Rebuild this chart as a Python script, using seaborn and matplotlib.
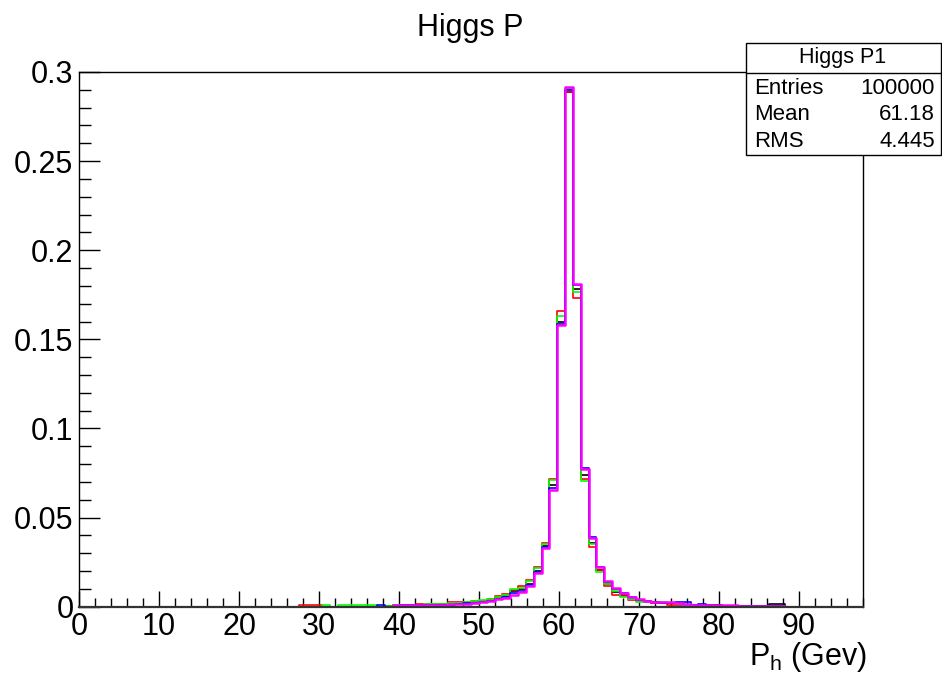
import numpy as np
import pandas as pd
import matplotlib
matplotlib.use("Agg")
import matplotlib.pyplot as plt
from matplotlib.ticker import MultipleLocator
import seaborn as sns

# Histogram binning: 100 bins over 0..98 GeV
N_BINS = 100
X_MIN, X_MAX = 0.0, 98.0
FIRST_BIN = 27  # index of the first listed bin; bins outside the lists are empty

# Normalised bin contents (bins 27..90) for each overlaid sample
black = [0, 0, 0, 0, 0, 0, 0, 0, 0, 0, 0, 0, .0004,
         .0008, .0008, .0009, .0010, .0011, .0012, .0013, .0015, .0017, .0022,
         .0026, .0030, .0037, .0048, .0060, .0086, .0098, .0130, .0203, .0343,
         .0684, .1600, .2890, .1780, .0740, .0359, .0208, .0130, .0082, .0066,
         .0048, .0036, .0029, .0023, .0020, .0019, .0016, .0012, .0010, .0009,
         .0008, .0008, .0006, .0006, .0004, .0004, .0004, .0004, .0013, .0013, 0]
red = [0, .0012, .0012, .0012, 0, 0, 0, 0, 0, 0, 0, 0, 0,
       .0008, .0008, .0010, .0017, .0014, .0015, .0016, .0025, .0025, .0025,
       .0030, .0034, .0042, .0058, .0072, .0095, .0114, .0152, .0225, .0360,
       .0716, .1657, .2885, .1733, .0715, .0333, .0204, .0118, .0066, .0060,
       .0038, .0030, .0024, .0019, .0019, .0012, .0008, .0008, .0006, .0006,
       .0006, .0005, .0004, .0004, .0003, .0003, .0003, .0003, .0003, .0003, 0]
green = [0, 0, 0, 0, .0008, 0, .0008, .0008, .0008, .0008, .0008, 0, .0004,
         .0008, .0009, .0010, .0012, .0017, .0017, .0017, .0019, .0021, .0028,
         .0031, .0036, .0044, .0055, .0068, .0102, .0107, .0143, .0219, .0352,
         .0708, .1630, .2905, .1767, .0704, .0349, .0197, .0127, .0088, .0054,
         .0043, .0028, .0027, .0028, .0024, .0018, .0014, .0009, .0009, .0009,
         .0008, .0006, .0006, .0006, .0006, .0006, .0006, .0006, .0003, .0003, 0]
blue = [0, 0, 0, 0, 0, 0, 0, 0, 0, 0, 0, .0008, 0,
        .0006, .0007, .0008, .0009, .0009, .0010, .0011, .0008, .0014, .0018,
        .0022, .0026, .0031, .0042, .0053, .0076, .0089, .0122, .0192, .0334,
        .0665, .1585, .2898, .1805, .0777, .0390, .0225, .0139, .0097, .0075,
        .0054, .0040, .0032, .0025, .0022, .0022, .0025, .0025, .0009, .0017,
        .0009, .0006, .0005, .0005, .0004, .0004, .0004, .0004, .0003, .0003, 0]
magenta = [0, 0, 0, 0, 0, 0, 0, 0, 0, 0, 0, 0, 0,
           .0009, .0009, .0010, .0010, .0011, .0012, .0012, .0013, .0015, .0017,
           .0021, .0025, .0030, .0041, .0050, .0068, .0084, .0118, .0188, .0328,
           .0656, .1580, .2915, .1810, .0772, .0384, .0221, .0144, .0103, .0079,
           .0056, .0042, .0034, .0025, .0025, .0025, .0018, .0014, .0011, .0010,
           .0011, .0011, .0008, .0008, .0006, .0006, .0006, .0006, .0003, .0003, 0]

series_names = ["black", "red", "green", "blue", "magenta"]
series_values = [black, red, green, blue, magenta]
series_colors = ["#000000", "#ff0000", "#00ff00", "#0000ff", "#ff00ff"]
series_widths = [1.2, 1.2, 1.2, 1.2, 1.8]

x_tick_values = [0, 10, 20, 30, 40, 50, 60, 70, 80, 90]
y_tick_values = [0, 0.05, 0.1, 0.15, 0.2, 0.25, 0.3]
y_tick_labels = ["0", "0.05", "0.1", "0.15", "0.2", "0.25", "0.3"]

stats_title = "Higgs P1"
stats_rows = [("Entries", "100000"), ("Mean", "61.18"), ("RMS", "4.445")]

edges = np.linspace(X_MIN, X_MAX, N_BINS + 1)
centers = 0.5 * (edges[:-1] + edges[1:])

sns.set_theme(style="white")
plt.rcParams["font.family"] = ["Liberation Sans", "DejaVu Sans"]
plt.rcParams["text.color"] = "black"
plt.rcParams["xtick.color"] = "black"
plt.rcParams["ytick.color"] = "black"
plt.rcParams["xtick.labelcolor"] = "black"
plt.rcParams["ytick.labelcolor"] = "black"

fig = plt.figure(figsize=(9.42, 6.79), dpi=100)
ax = fig.add_axes([0.0839, 0.1065, 0.8323, 0.7875])

for name, vals, col, lw in zip(series_names, series_values, series_colors, series_widths):
    w = np.zeros(N_BINS)
    w[FIRST_BIN:FIRST_BIN + len(vals)] = vals
    df = pd.DataFrame({"P": centers, "w": w})
    sns.histplot(data=df, x="P", weights="w", bins=N_BINS, binrange=(X_MIN, X_MAX),
                 element="step", fill=False, color=col, linewidth=lw, ax=ax)

ax.set_xlim(X_MIN, X_MAX)
ax.set_ylim(0, 0.3)
ax.set_ylabel("")
ax.set_xlabel("")

ax.xaxis.set_minor_locator(MultipleLocator(2))
ax.yaxis.set_minor_locator(MultipleLocator(0.01))
ax.set_xticks(x_tick_values)
ax.set_xticklabels([str(v) for v in x_tick_values])
ax.set_yticks(y_tick_values)
ax.set_yticklabels(y_tick_labels)

ax.tick_params(axis="x", which="major", direction="in", length=11.5, width=1,
               labelsize=22, pad=4, bottom=True, top=False, color="black",
               labelcolor="black")
ax.tick_params(axis="x", which="minor", direction="in", length=6.5, width=1,
               bottom=True, top=False, color="black")
ax.tick_params(axis="y", which="major", direction="in", length=15, width=1,
               labelsize=22, pad=4, left=True, right=False, color="black",
               labelcolor="black")
ax.tick_params(axis="y", which="minor", direction="in", length=8.5, width=1,
               left=True, right=False, color="black")

for side in ["left", "right", "top", "bottom"]:
    ax.spines[side].set_visible(True)
    ax.spines[side].set_color("black")
    ax.spines[side].set_linewidth(1.0)
ax.spines["bottom"].set_linewidth(1.6)
ax.spines["bottom"].set_color("#333333")

ax.grid(False)

fig.text(470 / 942, 1 - 28 / 679, "Higgs P", ha="center", va="center",
         fontsize=22, color="black")
fig.text(867 / 942, 1 - 657 / 679, r"$\mathregular{P_h}$ (Gev)",
         ha="right", va="center", fontsize=22, color="black")

# Statistics box in figure pixel coordinates
W, H = 942.0, 679.0
bx0, bx1 = 745.5, 940.5
by_top, by_sep, by_bot = 43.0, 73.0, 155.0
box = plt.Rectangle((bx0 / W, 1 - by_bot / H), (bx1 - bx0) / W, (by_bot - by_top) / H,
                    transform=fig.transFigure, facecolor="white", edgecolor="black",
                    linewidth=1.0, zorder=5)
fig.patches.append(box)
fig.add_artist(plt.Line2D([bx0 / W, bx1 / W], [1 - by_sep / H, 1 - by_sep / H],
                          transform=fig.transFigure, color="black", linewidth=1.0, zorder=6))
fig.text((bx0 + bx1) / 2 / W, 1 - 58 / H, stats_title, ha="center", va="center",
         fontsize=15.5, color="black", zorder=7)
row_y = [88.5, 115.0, 141.5]
for (lab, val), yy in zip(stats_rows, row_y):
    fig.text(754 / W, 1 - yy / H, lab, ha="left", va="center", fontsize=16,
             color="black", zorder=7)
    fig.text(935 / W, 1 - yy / H, val, ha="right", va="center", fontsize=16,
             color="black", zorder=7)

fig.savefig("out.png", dpi=100, facecolor="white")
